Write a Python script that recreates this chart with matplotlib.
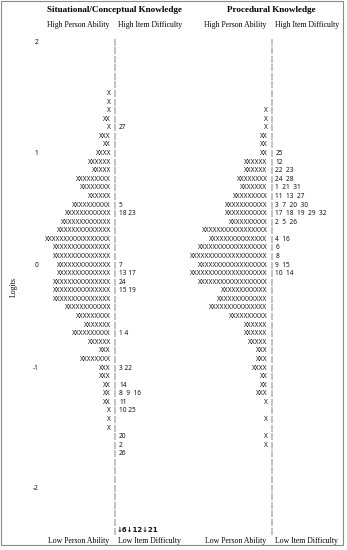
import matplotlib.pyplot as plt
from matplotlib.patches import Rectangle

# Wright map: number of "X" per row (persons) and item numbers per row.
# Row 0 is the top of the map (2 logits), row 57 the bottom.
n_rows = 58

sc_rows = list(range(6, 46))
sc_persons = [1, 1, 1, 2, 1, 3, 2, 4, 6, 5, 9, 8, 6, 10, 12, 13, 14, 17, 15, 15,
              14, 14, 15, 15, 15, 12, 9, 7, 10, 6, 3, 8, 3, 3, 2, 2, 2, 1, 1, 1]
sc_items = {10: "27", 19: "5", 20: "18 23", 26: "7", 27: "13 17", 28: "24",
            29: "15 19", 34: "1 4", 38: "3 22", 40: "14", 41: "8  9  16",
            42: "11", 43: "10 25", 46: "20", 47: "2", 48: "26"}

pk_rows = list(range(8, 48))
pk_persons = [1, 1, 1, 2, 2, 2, 6, 6, 8, 7, 9, 11, 11, 10, 17, 15, 18, 20, 18, 20,
              18, 12, 13, 15, 10, 6, 6, 5, 3, 3, 4, 2, 2, 3, 1, 0, 1, 0, 1, 1]
pk_items = {13: "25", 14: "12", 15: "22  23", 16: "24  28", 17: "1  21  31",
            18: "11  13  27", 19: "3  7  20  30", 20: "17  18  19  29  32",
            21: "2  5  26", 23: "4  16", 24: "6", 25: "8", 26: "9  15", 27: "10  14"}

tick_rows = [0, 13, 26, 38, 52]
tick_labels = ["2", "1", "0", "-1", "-2"]

panels = [
    ("Situational/Conceptual Knowledge", 114.5, sc_rows, sc_persons, sc_items, "\u21936\u219312\u219321"),
    ("Procedural Knowledge", 271.0, pk_rows, pk_persons, pk_items, ""),
]

fig = plt.figure(figsize=(3.47, 5.5), dpi=100)
ax = fig.add_axes([0, 0, 1, 1])
ax.set_xlim(0, 347)
ax.set_ylim(550, 0)
ax.axis('off')

row_top = 42
row_h = 8.58
mono = ['Noto Sans', 'DejaVu Sans']
serif = 'Liberation Serif'
small = 4.7
ink = '#111111'


def row_y(r):
    return row_top + row_h * r


# frame around the whole chart
ax.add_patch(Rectangle((1, 0.8), 342, 544.5, fill=False, edgecolor='#8a8a8a', linewidth=0.8))

for title, xc, rows, persons, items, bottom_extra in panels:
    ax.text(xc, 10, title, ha='center', va='center', fontsize=6.6,
            fontweight='bold', family=serif)
    ax.text(xc - 5, 25, "High Person Ability", ha='right', va='center', fontsize=5.6, family=serif)
    ax.text(xc + 4, 25, "High Item Difficulty", ha='left', va='center', fontsize=5.6, family=serif)
    ax.text(xc - 5, 541, "Low Person Ability", ha='right', va='center', fontsize=5.6, family=serif)
    ax.text(xc + 4, 541, "Low Item Difficulty", ha='left', va='center', fontsize=5.6, family=serif)

    # dashed centre line made of "|" characters, one per row
    for r in range(n_rows):
        ax.text(xc, row_y(r), "|", ha='center', va='center', fontsize=5.2, family=mono,
                color=ink)

    for r, n in zip(rows, persons):
        if n:
            ax.text(xc - 3.5, row_y(r), "X" * n, ha='right', va='center',
                    fontsize=small, family=mono, color=ink)

    for r, lab in items.items():
        ax.text(xc + 4.5, row_y(r), lab, ha='left', va='center',
                fontsize=small, family=mono, color=ink)

    if bottom_extra:
        ax.text(xc + 2.0, row_y(n_rows - 1) - 1, bottom_extra, ha='left', va='center',
                fontsize=5.0, fontweight='bold', family=['DejaVu Sans'], color=ink)

for r, lab in zip(tick_rows, tick_labels):
    ax.text(38.5, row_y(r), lab, ha='right', va='center', fontsize=small, family=mono,
            color=ink)

ax.text(14, 287, "Logits", rotation=90, ha='center', va='center', fontsize=5.6, family=serif)

plt.savefig('out.png', dpi=100)
